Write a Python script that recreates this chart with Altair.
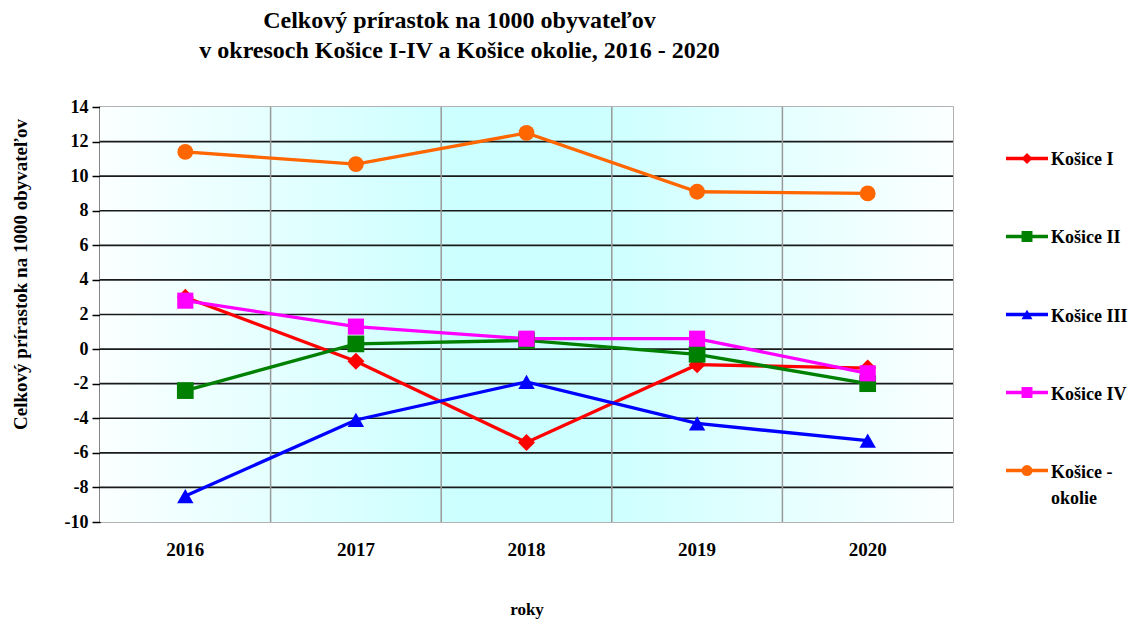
import altair as alt
import pandas as pd

years = ["2016", "2017", "2018", "2019", "2020"]
series_names = ["Košice I", "Košice II", "Košice III", "Košice IV", "Košice - okolie"]
legend_labels = ["Košice I", "Košice II", "Košice III", "Košice IV", "Košice -\nokolie"]
kosice_1 = [3.0, -0.7, -5.4, -0.9, -1.1]
kosice_2 = [-2.4, 0.3, 0.5, -0.3, -2.0]
kosice_3 = [-8.5, -4.1, -1.9, -4.3, -5.3]
kosice_4 = [2.8, 1.3, 0.6, 0.6, -1.4]
kosice_okolie = [11.4, 10.7, 12.5, 9.1, 9.0]
y_ticks = [-10, -8, -6, -4, -2, 0, 2, 4, 6, 8, 10, 12, 14]
inner_grid = [-8, -6, -4, -2, 0, 2, 4, 6, 8, 10, 12]

colors = ["#FF0000", "#008000", "#0000FF", "#FF00FF", "#FF6600"]
shapes = ["diamond", "square", "triangle-up", "square", "circle"]
marker_sizes = [290, 250, 380, 270, 300]

all_values = [kosice_1, kosice_2, kosice_3, kosice_4, kosice_okolie]
rows = []
for s, vals in zip(series_names, all_values):
    for y, v in zip(years, vals):
        rows.append({"series": s, "year": y, "value": v})
df = pd.DataFrame(rows)

FONT = "Liberation Serif"
W, H = 853, 415

xscale = alt.Scale(type="band", domain=years, paddingInner=0, paddingOuter=0)
yscale = alt.Scale(domain=[-10, 14], nice=False, zero=False)
color_scale = alt.Scale(domain=series_names, range=colors)
shape_scale = alt.Scale(domain=series_names, range=shapes)
size_scale = alt.Scale(domain=series_names, range=marker_sizes)

x_axis = alt.Axis(
    title="roky",
    labelAngle=0,
    labelFont=FONT,
    labelFontWeight="bold",
    labelFontSize=19,
    labelColor="#000000",
    labelPadding=18,
    ticks=False,
    domain=False,
    grid=False,
    titleFont=FONT,
    titleFontWeight="bold",
    titleFontSize=17,
    titleColor="#000000",
    titlePadding=42,
)
y_axis = alt.Axis(
    title="Celkový  prírastok  na  1000 obyvateľov",
    values=y_ticks,
    labelExpr="'' + datum.value",
    labelOverlap=False,
    grid=False,
    domainColor="#000000",
    domainWidth=1.5,
    tickColor="#000000",
    tickWidth=1.5,
    tickSize=8,
    labelFont=FONT,
    labelFontWeight="bold",
    labelFontSize=18,
    labelColor="#000000",
    labelPadding=4,
    titleFont=FONT,
    titleFontWeight="bold",
    titleFontSize=19,
    titleColor="#000000",
    titleBaseline="middle",
    titleX=-80,
    titleY=167,
)

bg = alt.Chart(pd.DataFrame({"a": [0]})).mark_rect(
    color=alt.LinearGradient(
        gradient="linear",
        x1=0, x2=1, y1=0, y2=0,
        stops=[
            alt.GradientStop(color="#FBFFFF", offset=0),
            alt.GradientStop(color="#CCFFFF", offset=0.42),
            alt.GradientStop(color="#CCFFFF", offset=0.58),
            alt.GradientStop(color="#FBFFFF", offset=1),
        ],
    )
).encode(x=alt.value(0), x2=alt.value(W), y=alt.value(0), y2=alt.value(H))

hgrid = alt.Chart(pd.DataFrame({"value": inner_grid})).mark_rule(
    color="#1a1a1a", strokeWidth=1.6
).encode(y=alt.Y("value:Q", scale=yscale, axis=y_axis))

vgrid = alt.Chart(pd.DataFrame({"year": years[1:]})).mark_rule(
    color="#999999", strokeWidth=1.5
).encode(x=alt.X("year:N", scale=xscale, bandPosition=0, axis=x_axis))

base = alt.Chart(df).encode(
    x=alt.X("year:N", scale=xscale, bandPosition=0.5, axis=x_axis),
    y=alt.Y("value:Q", scale=yscale, axis=y_axis),
    color=alt.Color("series:N", scale=color_scale, legend=None),
)

lines = base.mark_line(strokeWidth=3.3)
points = base.mark_point(filled=True, opacity=1).encode(
    shape=alt.Shape("series:N", scale=shape_scale, legend=None),
    size=alt.Size("series:N", scale=size_scale, legend=None),
)

main = alt.layer(bg, hgrid, vgrid, lines, points)

leg_df = pd.DataFrame({"series": series_names, "label": legend_labels})
ly = alt.Y("series:N", scale=alt.Scale(type="point", domain=series_names, padding=0.66), axis=None)
lcolor = alt.Color("series:N", scale=color_scale, legend=None)
LX = W + 53
leg_rule = alt.Chart(leg_df).mark_rule(strokeWidth=3.3).encode(
    x=alt.value(LX), x2=alt.value(LX + 42), y=ly, color=lcolor
)
leg_pts = alt.Chart(leg_df).mark_point(filled=True, opacity=1, size=120).encode(
    x=alt.value(LX + 21), y=ly, color=lcolor,
    shape=alt.Shape("series:N", scale=shape_scale, legend=None),
)
leg_txt = alt.Chart(leg_df).mark_text(
    align="left", baseline="alphabetic", dy=7, font=FONT, fontWeight="bold",
    fontSize=18, lineBreak="\n", lineHeight=26, color="#000000"
).encode(x=alt.value(LX + 45), y=ly, text="label:N")

legend = alt.layer(leg_rule, leg_pts, leg_txt)

chart = alt.layer(main, legend).resolve_scale(y="independent").properties(
    width=W,
    height=H,
    view=alt.ViewConfig(stroke="#999999", strokeWidth=1.5),
    title=alt.TitleParams(
        text=["Celkový prírastok  na  1000 obyvateľov", "v okresoch Košice I-IV a Košice okolie, 2016 - 2020"],
        font=FONT,
        fontWeight="bold",
        fontSize=24,
        color="#000000",
        anchor="middle",
        dx=-67,
        offset=35,
        lineHeight=30,
    ),
    autosize=alt.AutoSizeParams(type="none"),
    padding={"left": 92, "top": 99, "right": 180, "bottom": 98},
).configure(background="#FFFFFF")

chart.save("out.html", embed_options={"renderer": "svg", "actions": False})
